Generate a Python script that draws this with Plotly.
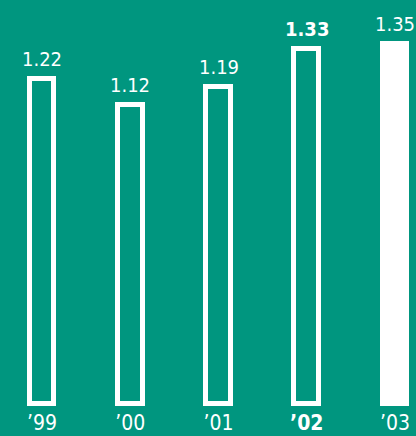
import plotly.graph_objects as go

# Data
years = ["\u201999", "\u201900", "\u201901", "\u201902", "\u201903"]
values = [1.22, 1.12, 1.19, 1.33, 1.35]
value_labels = ["1.22", "1.12", "1.19", "1.33", "1.35"]
bold_flags = [False, False, False, True, False]
solid_flags = [False, False, False, False, True]
tick_labels = [f"<b>{y}</b>" if b else y for y, b in zip(years, bold_flags)]

BG = "#00967F"
WHITE = "#FFFFFF"
FONT = "DejaVu Sans Condensed, Roboto, Liberation Sans, sans-serif"

fig = go.Figure()
fig.add_trace(go.Bar(
    x=years,
    y=values,
    width=0.283,
    marker=dict(
        color=[WHITE if s else BG for s in solid_flags],
        line=dict(color=WHITE, width=5),
    ),
    hoverinfo="skip",
))

for yr, v, lab, b in zip(years, values, value_labels, bold_flags):
    fig.add_annotation(
        x=yr, y=v, text=f"<b>{lab}</b>" if b else lab,
        showarrow=False, yanchor="bottom", yshift=6,
        font=dict(family=FONT, size=20, color=WHITE),
    )

fig.update_layout(
    width=416, height=436,
    margin=dict(l=0, r=0, t=0, b=29),
    paper_bgcolor=BG, plot_bgcolor=BG,
    showlegend=False,
    bargap=0,
    xaxis=dict(
        range=[-0.476, 4.238],
        tickmode="array", tickvals=years, ticktext=tick_labels,
        showgrid=False, zeroline=False, showline=False,
        tickfont=dict(family=FONT, size=21, color=WHITE),
        ticks="", ticklabelstandoff=1,
    ),
    yaxis=dict(
        range=[-0.0094, 1.515],
        visible=False, showgrid=False, zeroline=False,
    ),
)

fig.write_html("out.html")
